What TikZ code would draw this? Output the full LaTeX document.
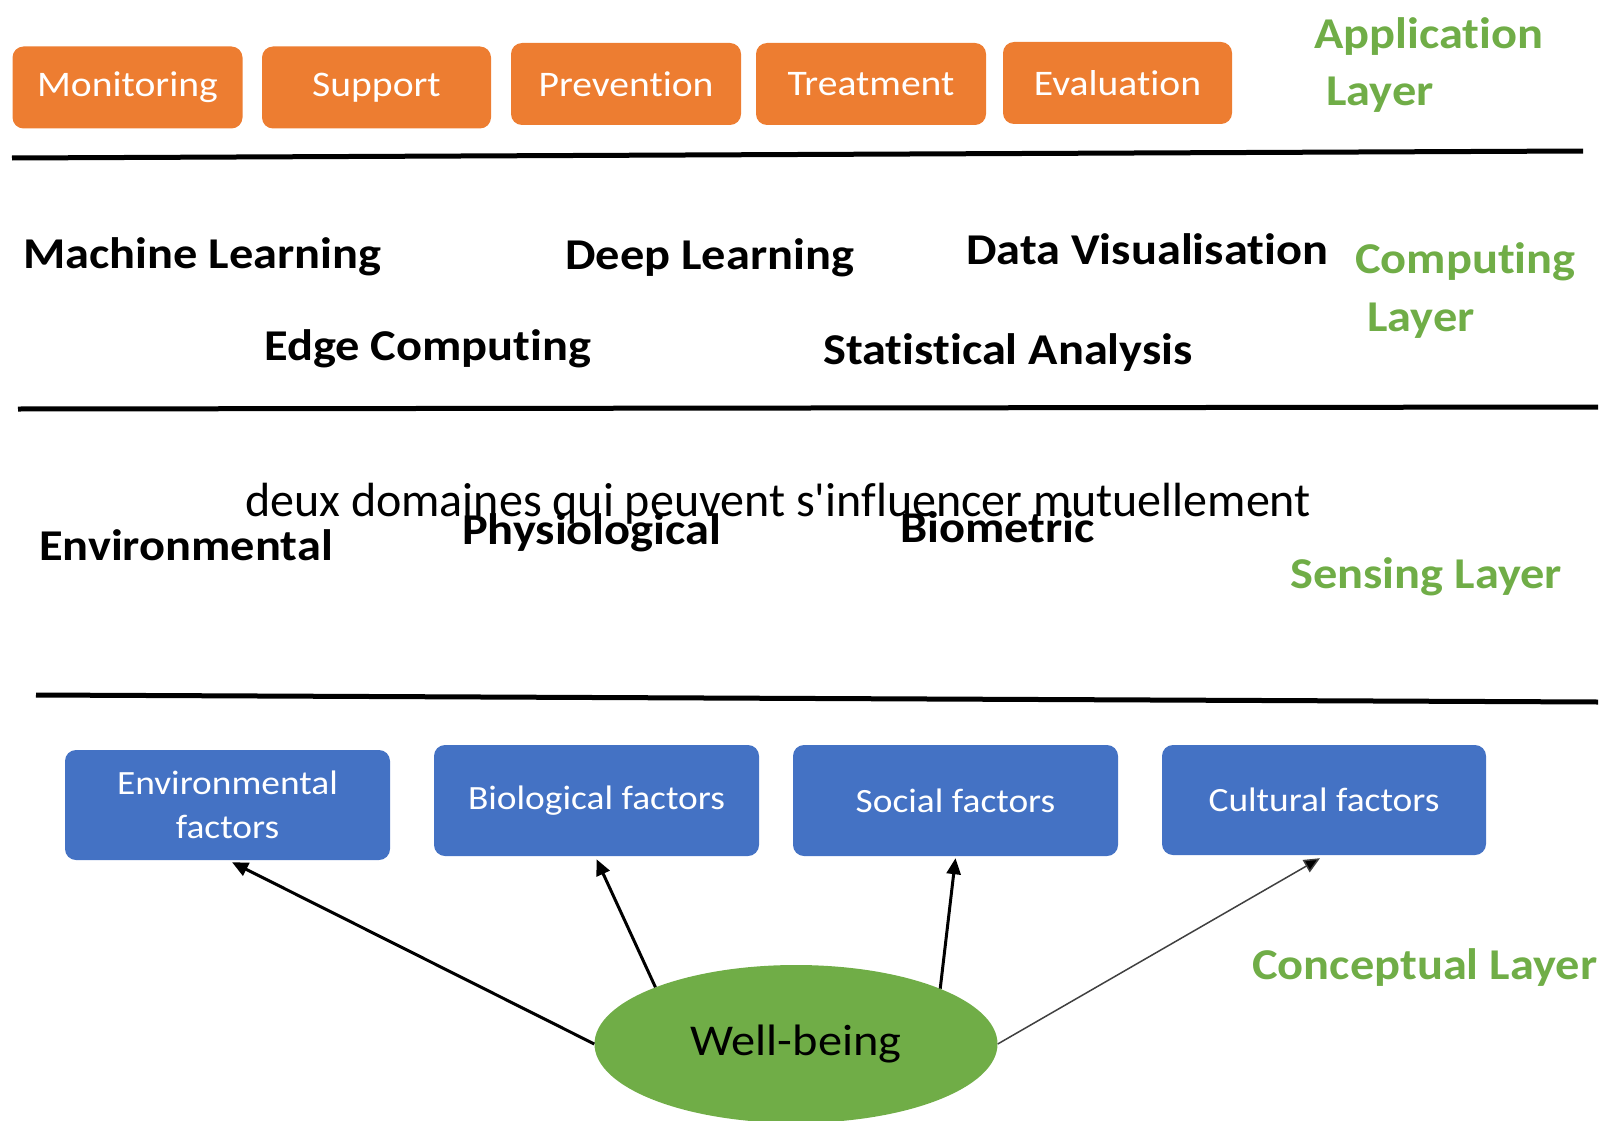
\documentclass[tikz,border=0pt]{standalone}
\usepackage{fontspec}
\setmainfont[FakeStretch=1.1,RawFeature={-liga;-clig;-calt;-dlig}]{Carlito}
\newfontfamily\overlayfont[RawFeature={-liga;-clig;-calt;-dlig}]{Carlito}
\usetikzlibrary{shapes.geometric,arrows.meta}
\definecolor{orangebox}{HTML}{ED7D31}
\definecolor{bluebox}{HTML}{4472C4}
\definecolor{layergreen}{HTML}{70AD47}
\tikzset{
  appbox/.style={fill=orangebox, rounded corners=11pt, text=white,
    font=\fontsize{36}{40}\selectfont, minimum width=230pt, minimum height=82pt, inner sep=0pt},
  factorbox/.style={fill=bluebox, rounded corners=11pt, text=white,
    font=\fontsize{34}{44}\selectfont, align=center, minimum width=325pt, minimum height=110pt, inner sep=0pt},
  layerlabel/.style={text=layergreen, font=\bfseries\fontsize{44}{50}\selectfont, inner sep=0pt, anchor=base west},
  techlabel/.style={font=\bfseries\fontsize{44}{50}\selectfont, inner sep=0pt, anchor=base west},
  sepline/.style={line width=5pt},
  influence/.style={line width=3pt, -{Triangle[length=16pt,width=14pt]}},
  thininfluence/.style={line width=1.5pt, draw=black!75, -{Triangle[length=16pt,width=14pt,fill=black]}},
}
\begin{document}
\begin{tikzpicture}[x=1pt,y=-1pt]
\useasboundingbox (0,0) rectangle (1603,1121);

% Application layer
\node[appbox] (mon) at (127.5,87.5) {\raisebox{-3pt}{Monitoring}};
\node[appbox, minimum width=229pt] (sup) at (376.5,87.5) {\raisebox{-3pt}{Support}};
\node[appbox] (pre) at (626,84) {\raisebox{-2pt}{Prevention}};
\node[appbox] (tre) at (871,84) {\raisebox{-2pt}{Treatment}};
\node[appbox, minimum width=229pt] (eva) at (1117.5,83) {\raisebox{-2pt}{Evaluation}};
\node[layerlabel] (appA) at (1314,49) {Application};
\node[layerlabel] (appB) at (1326,106) {Layer};

\draw[sepline] (12,158) -- (1583,151);

% Computing layer
\node[techlabel] (ml) at (23,268) {Machine Learning};
\node[techlabel] (dl) at (565,269) {Deep Learning};
\node[techlabel] (dv) at (966,264) {Data Visualisation};
\node[techlabel] (ec) at (264,360) {Edge Computing};
\node[techlabel] (sa) at (823,364) {Statistical Analysis};
\node[layerlabel] (compA) at (1355,273) {Computing};
\node[layerlabel] (compB) at (1367,331) {Layer};

\draw[sepline] (18,409) -- (1598,407);

% Sensing layer
\node[techlabel] (env) at (39,560) {Environmental};
\node[techlabel] (phy) at (462,544) {Physiological};
\node[techlabel] (bio) at (900,542) {Biometric};
\node[inner sep=0pt, anchor=base west, font=\overlayfont\fontsize{48}{52}\selectfont] (ovl) at (245,516) {deux domaines qui peuvent s'influencer mutuellement};
\node[layerlabel] (sens) at (1290,588) {Sensing Layer};

\draw[sepline] (36,695) -- (1598,702);

% Conceptual layer
\node[factorbox] (envf) at (227.5,805) {Environmental\\factors};
\node[factorbox, minimum height=111pt] (biof) at (596.5,800.5) {\raisebox{-3pt}{Biological factors}};
\node[factorbox, minimum height=111pt] (socf) at (955.5,800.5) {Social factors};
\node[factorbox, minimum width=324pt] (cultf) at (1324,800) {Cultural factors};
\node[layerlabel] (conc) at (1252,979) {Conceptual Layer};

\node[ellipse, fill=layergreen, minimum width=403pt, minimum height=158pt, inner sep=0pt,
  font=\fontsize{44}{50}\selectfont] (wb) at (796,1044) {Well-being};

\draw[influence] (wb.west) -- ([xshift=4.5pt,yshift=-2pt]envf.south);
\draw[influence] (wb.158.5) -- ([yshift=-3pt]biof.south);
\draw[influence] (wb.21.5) -- ([yshift=-2pt]socf.south);
\draw[thininfluence] (wb.east) -- ([xshift=-4pt,yshift=-3pt]cultf.south);
\end{tikzpicture}
\end{document}
